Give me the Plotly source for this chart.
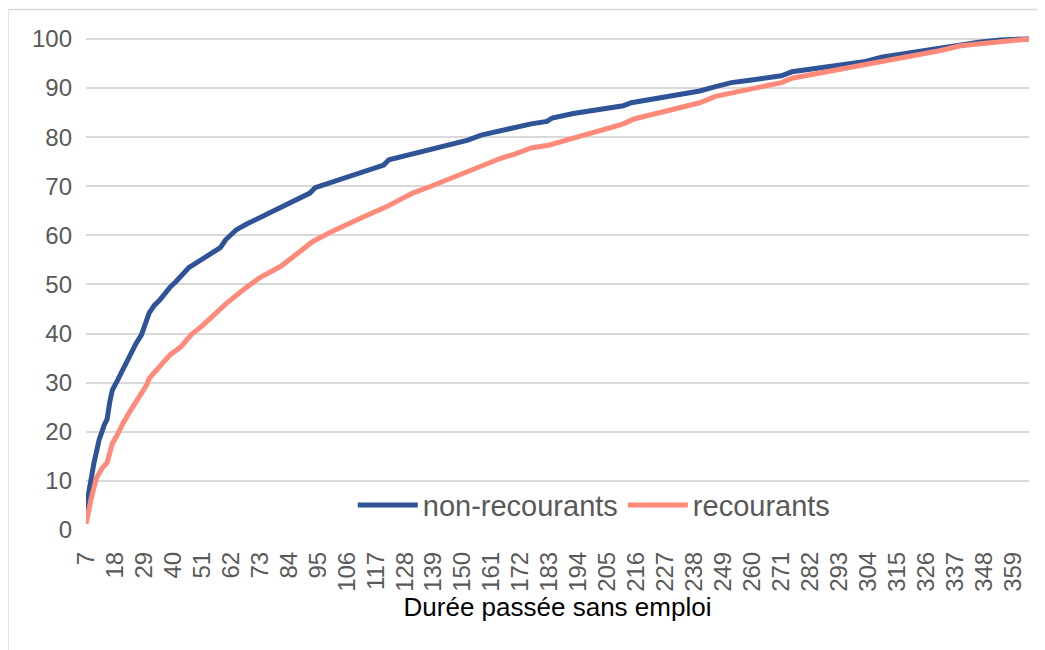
import plotly.graph_objects as go

# Days (x) and cumulative share (%)
days_non_rec = [7, 8, 10, 12, 14, 15, 16, 17, 19, 21, 24, 26, 28, 29, 31, 33, 35, 39, 41, 46,
                51, 55, 58, 60, 62, 64, 68, 73, 81, 88, 92, 94, 100, 106, 113, 120, 122, 130,
                138, 145, 152, 157, 164, 170, 176, 182, 184, 192, 200, 211, 214, 220, 230,
                240, 246, 252, 259, 265, 271, 275, 285, 295, 303, 309, 320, 331, 339, 346,
                354, 365]
non_recourants = [3.3, 7.5, 13.6, 18.4, 21.5, 22.5, 26.0, 28.5, 30.5, 32.6, 36.1, 38.0, 39.7,
                  41.0, 44.2, 45.8, 46.8, 49.5, 50.5, 53.4, 55.0, 56.4, 57.5, 59.1, 60.2, 61.1,
                  62.3, 63.6, 65.6, 67.3, 68.6, 69.7, 70.8, 71.9, 73.1, 74.3, 75.4, 76.4, 77.4,
                  78.4, 79.4, 80.4, 81.3, 82.0, 82.7, 83.2, 83.9, 84.8, 85.5, 86.4, 87.0, 87.6,
                  88.4, 89.4, 90.3, 91.1, 91.6, 92.1, 92.5, 93.3, 94.1, 94.8, 95.4, 96.3, 97.2,
                  98.1, 98.9, 99.3, 99.8, 100.0]

days_rec = [7, 8, 9, 11, 13, 15, 16, 17, 19, 21, 24, 26, 28, 30, 31, 35, 39, 43, 47, 51, 55,
            60, 66, 70, 73, 81, 88, 93, 100, 106, 112, 121, 126, 131, 138, 144, 150, 157, 164,
            170, 176, 183, 190, 196, 204, 211, 215, 222, 230, 240, 246, 252, 259, 265, 271,
            275, 285, 295, 303, 310, 320, 331, 339, 346, 354, 365]
recourants = [1.2, 4.0, 6.5, 10.6, 12.5, 13.7, 16.0, 17.6, 19.5, 21.7, 24.4, 26.2, 27.9, 29.5,
              30.9, 33.3, 35.7, 37.3, 39.8, 41.5, 43.5, 46.0, 48.6, 50.2, 51.4, 53.7, 56.7,
              58.7, 60.7, 62.3, 63.7, 65.8, 67.2, 68.6, 70.0, 71.3, 72.6, 74.3, 75.6, 76.6,
              77.8, 78.4, 79.6, 80.4, 81.6, 82.7, 83.7, 84.6, 85.6, 87.0, 88.3, 89.0, 89.8,
              90.4, 91.1, 92.0, 93.0, 93.9, 94.6, 95.4, 96.3, 97.6, 98.6, 99.0, 99.5, 100.0]

x_ticks = list(range(7, 360, 11))
y_ticks = list(range(0, 101, 10))

FONT = "Liberation Sans, Arial, sans-serif"
GREY = "#595959"

fig = go.Figure()
fig.add_trace(go.Scatter(x=days_non_rec, y=non_recourants, mode="lines", name="non-recourants",
                         line=dict(color="#2E5396", width=5)))
fig.add_trace(go.Scatter(x=days_rec, y=recourants, mode="lines", name="recourants",
                         line=dict(color="#FF8A7A", width=5)))

fig.update_layout(
    width=1037, height=642,
    margin=dict(l=78, r=16, t=26, b=120),
    paper_bgcolor="white", plot_bgcolor="white",
    font=dict(family=FONT, color=GREY, size=24),
    showlegend=True,
    legend=dict(orientation="h", x=0.539, xanchor="center", y=0.05, yanchor="middle",
                font=dict(size=29, color=GREY, family=FONT), bgcolor="rgba(0,0,0,0)",
                itemwidth=60),
    shapes=[dict(type="rect", xref="paper", yref="paper", x0=-0.0827, x1=1.03,
                 y0=-0.3, y1=1.0494, line=dict(color="#D9D9D9", width=1.5),
                 fillcolor="rgba(0,0,0,0)", layer="below")],
)
fig.update_xaxes(range=[7, 365], tickmode="array", tickvals=x_ticks,
                 ticktext=[str(v) for v in x_ticks], tickangle=-90,
                 tickfont=dict(size=24, color=GREY), showgrid=False, zeroline=False,
                 showline=False, ticks="", ticklabelstandoff=16,
                 title=dict(text="Durée passée sans emploi", font=dict(size=26, color="black"),
                            standoff=5))
fig.update_yaxes(range=[0, 101], tickmode="array", tickvals=y_ticks,
                 tickfont=dict(size=24, color=GREY), showgrid=True, gridcolor="#D9D9D9",
                 gridwidth=1.5, zeroline=False, showline=False, ticks="",
                 ticklabelstandoff=13)

fig.write_html("out.html")
